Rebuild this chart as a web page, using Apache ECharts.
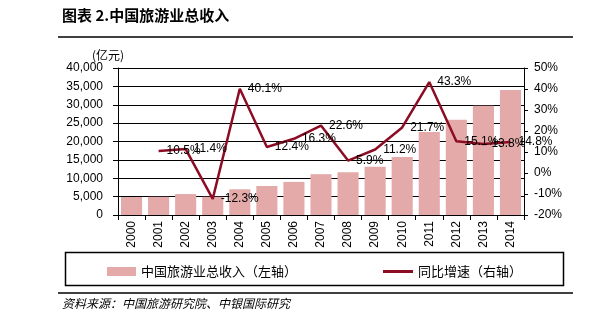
<!DOCTYPE html>
<html>
<head>
<meta charset="utf-8">
<script src="https://cdn.jsdelivr.net/npm/echarts@6/dist/echarts.min.js"></script>
<style>
  html, body { margin: 0; padding: 0; background: #fff; }
  #chart { width: 594px; height: 325px; }
</style>
</head>
<body>
<div id="chart"></div>
<script>
// Years on the category axis
const years = ['2000','2001','2002','2003','2004','2005','2006','2007','2008','2009','2010','2011','2012','2013','2014'];
// Total tourism revenue, 100 million yuan (left axis)
const revenue = [4900, 4950, 5700, 4950, 7000, 7900, 9000, 11100, 11600, 13100, 15800, 22600, 25900, 29700, 34000];
// Year-on-year growth, % (right axis)
const growth = [null, 10.5, 11.4, -12.3, 40.1, 12.4, 16.3, 22.6, 5.9, 11.2, 21.7, 43.3, 15.1, 13.8, 14.8];
// Axis tick settings
const leftTicks = { min: 0, max: 40000, interval: 5000 };
const rightTicks = { min: -20, max: 50, interval: 10 };

const cjk = '"Noto Sans CJK SC", sans-serif';
const latin = '"Liberation Sans", Arial, sans-serif';
const barColor = '#E4AAAA';
const lineColor = '#8C0C24';

const chart = echarts.init(document.getElementById('chart'), null, { renderer: 'canvas' });

chart.setOption({
  animation: false,
  backgroundColor: '#fff',
  grid: { left: 118, right: 70, top: 68, bottom: 110, containLabel: false },
  legend: [
    {
      data: ['中国旅游业总收入（左轴）'],
      left: 102, top: 260,
      itemWidth: 29, itemHeight: 9, itemGap: 6,
      textStyle: { fontFamily: cjk, fontSize: 13, color: '#000' },
      icon: 'rect'
    },
    {
      data: ['同比增速（右轴）'],
      left: 378, top: 260,
      itemWidth: 30, itemHeight: 3, itemGap: 6,
      icon: 'rect',
      textStyle: { fontFamily: cjk, fontSize: 13, color: '#000' }
    }
  ],
  xAxis: {
    type: 'category',
    data: years,
    axisLine: { lineStyle: { color: '#000', width: 1 } },
    axisTick: { show: true, alignWithLabel: false, length: 5, lineStyle: { color: '#000' } },
    axisLabel: { rotate: 90, color: '#000', fontFamily: latin, fontSize: 12, margin: 6 }
  },
  yAxis: [
    {
      type: 'value',
      min: leftTicks.min, max: leftTicks.max, interval: leftTicks.interval,
      axisLine: { show: true, lineStyle: { color: '#000' } },
      axisTick: { show: true, length: 5, lineStyle: { color: '#000' } },
      splitLine: { show: true, lineStyle: { color: '#000', width: 1 } },
      axisLabel: {
        color: '#000', fontFamily: latin, fontSize: 12, margin: 15,
        formatter: v => v.toLocaleString('en-US')
      }
    },
    {
      type: 'value',
      min: rightTicks.min, max: rightTicks.max, interval: rightTicks.interval,
      axisLine: { show: true, lineStyle: { color: '#000' } },
      axisTick: { show: true, length: 4, lineStyle: { color: '#000' } },
      splitLine: { show: false },
      axisLabel: { color: '#000', fontFamily: latin, fontSize: 12, margin: 10, formatter: v => v + '%' }
    }
  ],
  series: [
    {
      name: '中国旅游业总收入（左轴）',
      type: 'bar',
      data: revenue,
      yAxisIndex: 0,
      barCategoryGap: '22%',
      itemStyle: { color: barColor }
    },
    {
      name: '同比增速（右轴）',
      type: 'line',
      data: growth,
      yAxisIndex: 1,
      symbol: 'circle',
      symbolSize: 0,
      showSymbol: true,
      lineStyle: { color: lineColor, width: 2.5 },
      itemStyle: { color: lineColor },
      label: {
        show: true, position: 'right', distance: 8,
        color: '#000', fontFamily: latin, fontSize: 12,
        formatter: p => p.value.toFixed(1) + '%'
      },
      labelLayout: { hideOverlap: false }
    }
  ],
  graphic: [
    {
      type: 'text', left: 62, top: 8,
      style: { text: '图表 2.中国旅游业总收入', font: 'bold 15px ' + cjk, fill: '#000' }
    },
    { type: 'line', shape: { x1: 58, y1: 37, x2: 573, y2: 37 }, style: { stroke: '#000', lineWidth: 1.5 } },
    {
      type: 'text', left: 92, top: 49,
      style: { text: '(亿元)', font: '12px ' + cjk, fill: '#000' }
    },
    {
      type: 'rect', shape: { x: 65.5, y: 252.5, width: 498, height: 33 },
      style: { fill: 'none', stroke: '#000', lineWidth: 1.5 }, z: -1
    },
    { type: 'line', shape: { x1: 58, y1: 293, x2: 573, y2: 293 }, style: { stroke: '#000', lineWidth: 1.5 } },
    {
      type: 'text', left: 62, top: 297,
      style: { text: '资料来源：中国旅游研究院、中银国际研究', font: 'italic 12px ' + cjk, fill: '#000' }
    }
  ]
});
</script>
</body>
</html>
